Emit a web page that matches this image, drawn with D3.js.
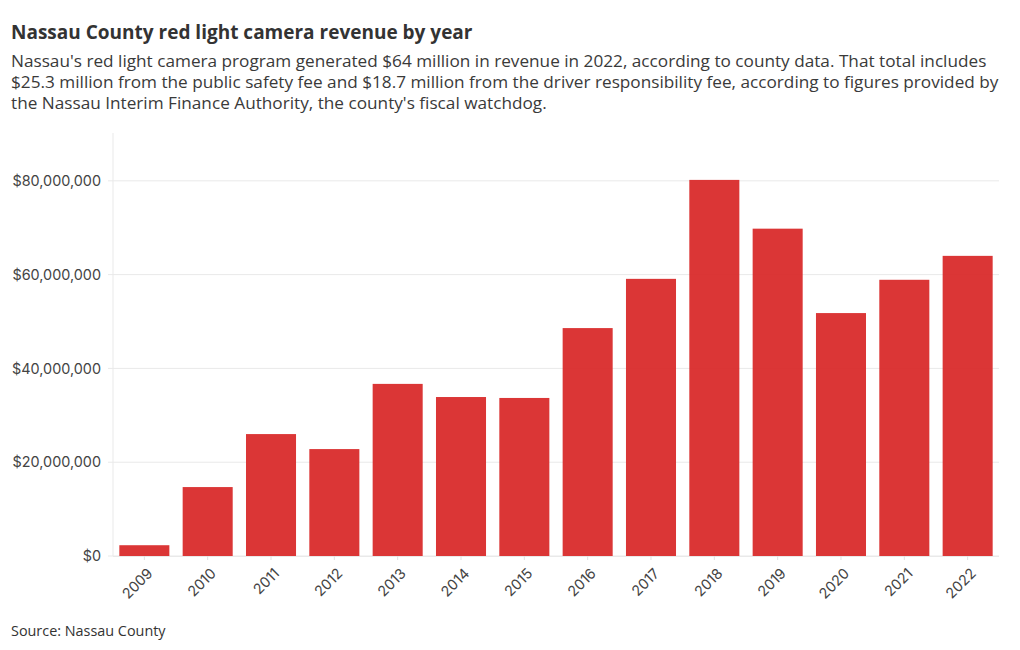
<!DOCTYPE html>
<html><head><meta charset="utf-8">
<script src="https://cdn.jsdelivr.net/npm/d3@7"></script>
<style>
body{margin:0;background:#fff;}
svg{display:block;}
</style></head>
<body>
<svg id="chart" width="1020" height="650"></svg>
<script>
const years = ["2009","2010","2011","2012","2013","2014","2015","2016","2017","2018","2019","2020","2021","2022"];
const revenue = [2300000,14700000,26000000,22800000,36700000,33900000,33700000,48600000,59100000,80200000,69800000,51800000,58900000,64000000];
const yTicks = [0,20000000,40000000,60000000,80000000];
const title = "Nassau County red light camera revenue by year";
const subtitleLines = [
  "Nassau's red light camera program generated $64 million in revenue in 2022, according to county data. That total includes",
  "$25.3 million from the public safety fee and $18.7 million from the driver responsibility fee, according to figures provided by",
  "the Nassau Interim Finance Authority, the county's fiscal watchdog."
];
const source = "Source: Nassau County";

(function(){
const svg = d3.select("#chart");
const textFont = "'Open Sans', sans-serif";
const tickFont = "Inter, sans-serif";

svg.append("text").attr("x",11).attr("y",39)
  .attr("font-family",textFont).attr("font-weight",700).attr("font-size",19)
  .attr("fill","#333").text(title);

svg.append("text").attr("x",11).attr("y",67)
  .attr("font-family",textFont).attr("font-size",17.2).attr("fill","#3a3a3a")
  .selectAll("tspan").data(subtitleLines).join("tspan")
  .attr("x",11).attr("dy",(d,i)=>i===0?0:21)
  .text(d=>d);

const mLeft=113, mRight=999, mTop=133, mBottom=556;
const x = d3.scaleBand().domain(years).range([mLeft,mRight]).paddingInner(0.21).paddingOuter(0.1);
const y = d3.scaleLinear().domain([0,90200000]).range([mBottom,mTop]);

svg.append("g").selectAll("line").data(yTicks).join("line")
  .attr("x1",mLeft-5).attr("x2",mRight).attr("y1",d=>y(d)).attr("y2",d=>y(d))
  .attr("stroke","#e9e9e9").attr("stroke-width",1);

svg.append("line").attr("x1",mLeft).attr("x2",mLeft).attr("y1",mTop).attr("y2",mBottom)
  .attr("stroke","#e9e9e9");

const yAxis = d3.axisLeft(y).tickValues(yTicks).tickSize(0).tickPadding(12)
  .tickFormat(d=>"$"+d3.format(",")(d));
const gy = svg.append("g").attr("transform",`translate(${mLeft},0)`).call(yAxis);
gy.select(".domain").remove();
gy.selectAll("text").attr("font-family",tickFont).attr("font-size",14.4).attr("fill","#444");

svg.append("g").selectAll("rect").data(years).join("rect")
  .attr("x",d=>x(d)).attr("width",x.bandwidth())
  .attr("y",(d,i)=>y(revenue[i])).attr("height",(d,i)=>y(0)-y(revenue[i]))
  .attr("fill","#d92b2b").attr("fill-opacity",0.95);

const xAxis = d3.axisBottom(x).tickSize(4).tickPadding(4);
const gx = svg.append("g").attr("transform",`translate(0,${mBottom})`).call(xAxis);
gx.select(".domain").attr("stroke","#e9e9e9").attr("d",`M${mLeft},0.5H${mRight}`);
gx.selectAll(".tick line").attr("stroke","#e0e0e0");
gx.selectAll("text").attr("font-family",tickFont).attr("font-size",14.4).attr("fill","#444")
  .attr("text-anchor","end").attr("dx","-0.45em").attr("dy","0.8em")
  .attr("transform","rotate(-45)");

svg.append("text").attr("x",11).attr("y",636)
  .attr("font-family",textFont).attr("font-size",14.4).attr("fill","#333").text(source);
})();
</script>
</body></html>
